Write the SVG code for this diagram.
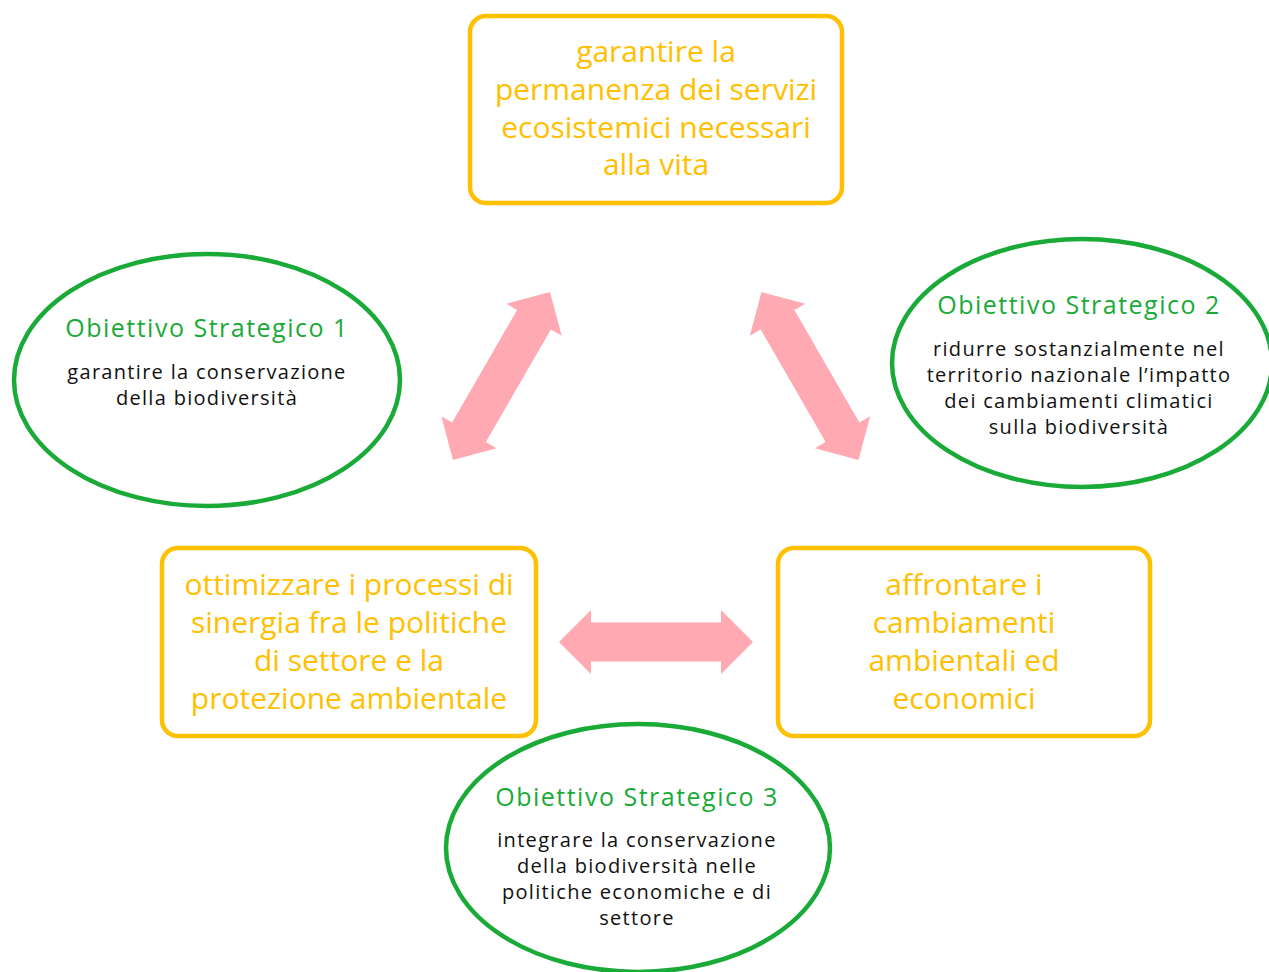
<svg xmlns="http://www.w3.org/2000/svg" width="1269" height="972" viewBox="0 0 1269 972">
<style>
.box{fill:#fff;stroke:#FFC000;stroke-width:4.5}
.ell{fill:#fff;stroke:#19AA38;stroke-width:4.5}
.yt{font-family:"Open Sans",sans-serif;font-size:30px;fill:#FFC000;text-anchor:middle}
.gt{font-family:"Open Sans",sans-serif;font-size:25px;letter-spacing:1.5px;fill:#19AA38;text-anchor:middle}
.bt{font-family:"Open Sans",sans-serif;font-size:20px;letter-spacing:1.3px;fill:#111;text-anchor:middle}
.arr{fill:#FFAAB2}
</style>
<defs>
<polygon id="dbl" points="97,0 65,-32 65,-19.5 -65,-19.5 -65,-32 -97,0 -65,32 -65,19.5 65,19.5 65,32"/>
</defs>
<rect width="1269" height="972" fill="#fff"/>
<g id="connectors" class="arr">
<use href="#dbl" transform="translate(501.5,376) rotate(-60)"/>
<use href="#dbl" transform="translate(810,376) rotate(60)"/>
<use href="#dbl" transform="translate(656,642)"/>
</g>
<g id="top">
<rect class="box" x="470" y="16" width="372" height="187" rx="16"/>
<text class="yt"><tspan x="656" y="62">garantire la</tspan><tspan x="656" y="100">permanenza dei servizi</tspan><tspan x="656" y="138">ecosistemici necessari</tspan><tspan x="656" y="175">alla vita</tspan></text>
</g>
<g id="left">
<rect class="box" x="162" y="548" width="374" height="188" rx="16"/>
<text class="yt"><tspan x="349" y="595">ottimizzare i processi di</tspan><tspan x="349" y="633">sinergia fra le politiche</tspan><tspan x="349" y="671">di settore e la</tspan><tspan x="349" y="709">protezione ambientale</tspan></text>
</g>
<g id="right">
<rect class="box" x="778" y="548" width="372" height="188" rx="16"/>
<text class="yt"><tspan x="964" y="595">affrontare i</tspan><tspan x="964" y="633">cambiamenti</tspan><tspan x="964" y="671">ambientali ed</tspan><tspan x="964" y="709">economici</tspan></text>
</g>
<g id="os1">
<ellipse class="ell" cx="207" cy="380" rx="193" ry="126"/>
<text class="gt" x="207" y="337">Obiettivo Strategico 1</text>
<text class="bt"><tspan x="207" y="379">garantire la conservazione</tspan><tspan x="207" y="405">della biodiversità</tspan></text>
</g>
<g id="os2">
<ellipse class="ell" cx="1082" cy="363" rx="190" ry="124"/>
<text class="gt" x="1079" y="314">Obiettivo Strategico 2</text>
<text class="bt"><tspan x="1079" y="356">ridurre sostanzialmente nel</tspan><tspan x="1079" y="382">territorio nazionale l’impatto</tspan><tspan x="1079" y="408">dei cambiamenti climatici</tspan><tspan x="1079" y="434">sulla biodiversità</tspan></text>
</g>
<g id="os3">
<ellipse class="ell" cx="638" cy="848" rx="192" ry="124"/>
<text class="gt" x="637" y="806">Obiettivo Strategico 3</text>
<text class="bt"><tspan x="637" y="847">integrare la conservazione</tspan><tspan x="637" y="873">della biodiversità nelle</tspan><tspan x="637" y="899">politiche economiche e di</tspan><tspan x="637" y="925">settore</tspan></text>
</g>
</svg>
